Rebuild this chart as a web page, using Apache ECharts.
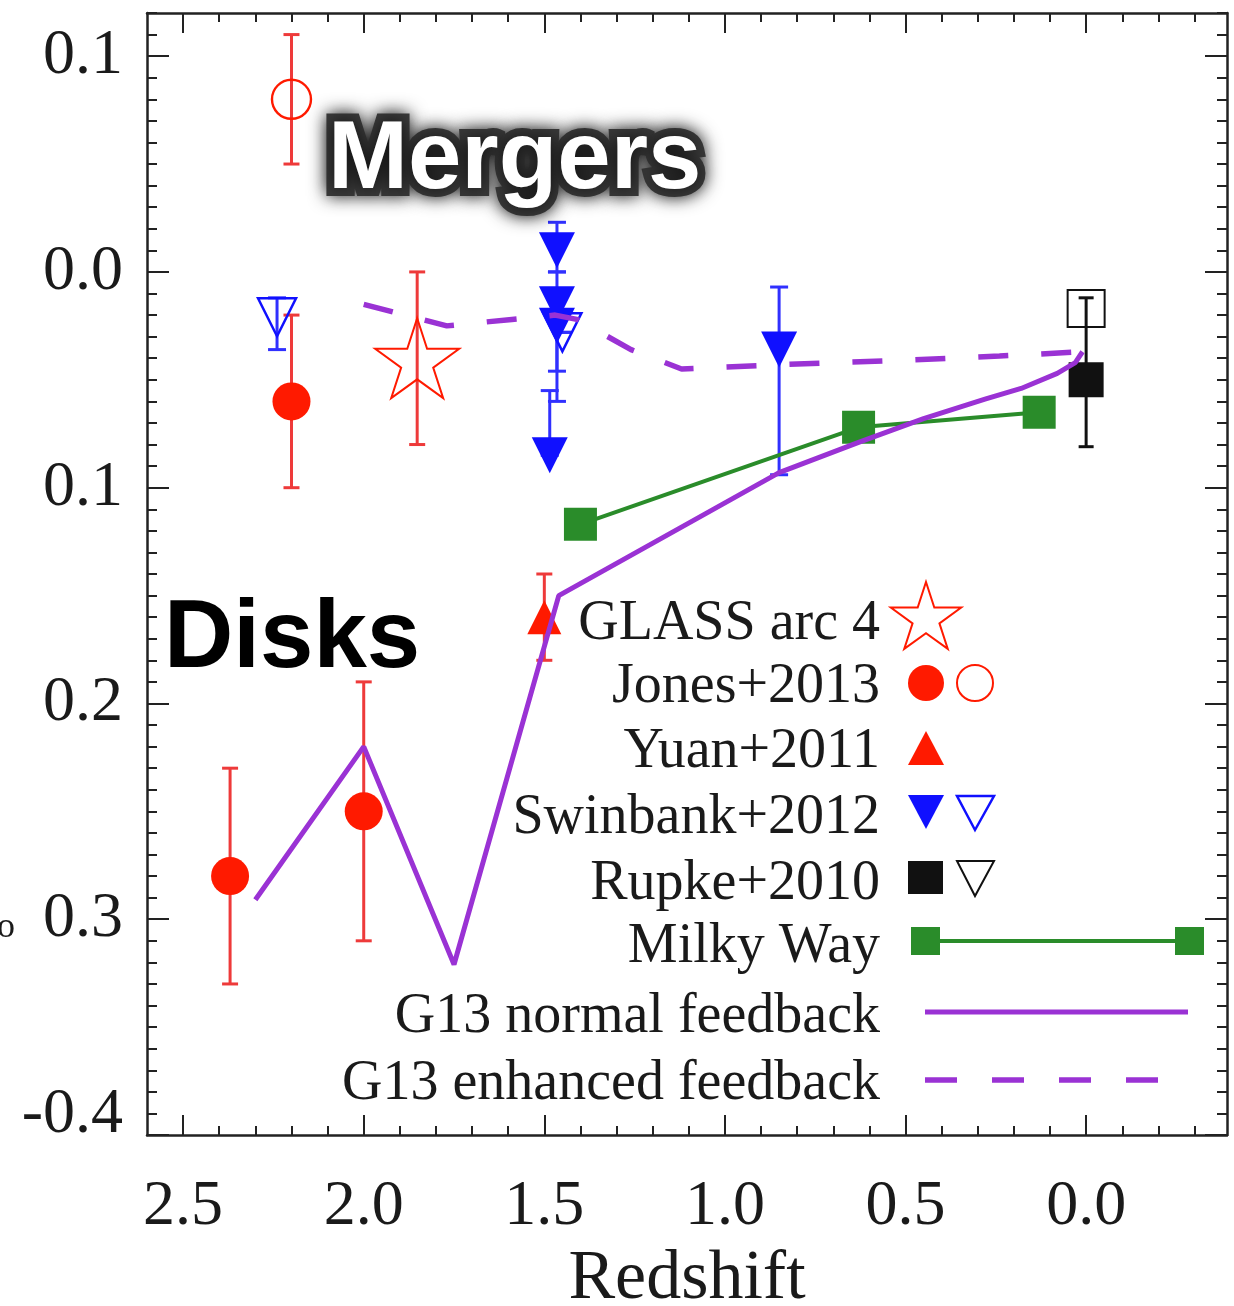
<!DOCTYPE html>
<html><head><meta charset="utf-8">
<script src="https://cdn.jsdelivr.net/npm/echarts@6/dist/echarts.min.js"></script>
<style>html,body{margin:0;padding:0;background:#fff}#c{width:1234px;height:1306px}</style>
</head><body><div id="c"></div>
<script>
// ---- axis ticks / labels ----
const xTickValues = [2.5, 2.0, 1.5, 1.0, 0.5, 0.0];
const xTickLabels = ['2.5', '2.0', '1.5', '1.0', '0.5', '0.0'];
const yTickValues = [0.1, 0.0, -0.1, -0.2, -0.3, -0.4];
const yTickLabels = ['0.1', '0.0', '0.1', '0.2', '0.3', '-0.4'];
const X_MIN = -0.39, X_MAX = 2.6, Y_MIN = -0.4, Y_MAX = 0.12;

// ---- Jones+2013 (filled) ----
const jonesX  = [2.37, 2.00, 2.20];
const jonesY  = [-0.28, -0.25, -0.06];
const jonesLo = [-0.33, -0.31, -0.10];
const jonesHi = [-0.23, -0.19, -0.02];
// ---- Jones+2013 (open) ----
const jonesOpenX  = [2.20];
const jonesOpenY  = [0.08];
const jonesOpenLo = [0.05];
const jonesOpenHi = [0.11];
// ---- GLASS arc 4 ----
const glassX  = [1.852];
const glassY  = [-0.04];
const glassLo = [-0.08];
const glassHi = [0.00];
// ---- Yuan+2011 ----
const yuanX  = [1.50];
const yuanY  = [-0.16];
const yuanLo = [-0.18];
const yuanHi = [-0.14];
// ---- Swinbank+2012 (filled) ----
const swinX  = [1.465, 1.465, 1.465, 1.485, 0.85];
const swinY  = [0.010, -0.015, -0.025, -0.085, -0.036];
const swinLo = [0.000, -0.046, -0.060, -0.085, -0.094];
const swinHi = [0.023, 0.000, -0.012, -0.055, -0.007];
// ---- Swinbank+2012 (open) ----
const swinOpenX  = [2.24, 1.45];
const swinOpenY  = [-0.021, -0.028];
const swinOpenLo = [-0.036, -0.028];
const swinOpenHi = [-0.012, -0.028];
// ---- Rupke+2010 ----
const rupkeX  = [0.00];
const rupkeY  = [-0.05];
const rupkeLo = [-0.081];
const rupkeHi = [-0.012];
const rupkeOpenX = [0.00];
const rupkeOpenY = [-0.017];
// ---- Milky Way ----
const mwX = [1.40, 0.63, 0.13];
const mwY = [-0.117, -0.072, -0.065];
// ---- G13 normal feedback ----
const g13nX = [2.30, 2.00, 1.75, 1.46, 0.85, 0.63, 0.45, 0.28, 0.18, 0.08, 0.03, 0.01];
const g13nY = [-0.291, -0.220, -0.321, -0.150, -0.093, -0.079, -0.068, -0.059, -0.054, -0.047, -0.042, -0.037];
// ---- G13 enhanced feedback ----
const g13eX = [2.00, 1.77, 1.59, 1.47, 1.41, 1.26, 1.12, 0.85, 0.52, 0.24, 0.01];
const g13eY = [-0.015, -0.025, -0.022, -0.020, -0.022, -0.036, -0.045, -0.043, -0.041, -0.039, -0.037];

// ---- legend texts ----
const legendLabels = ['GLASS arc 4', 'Jones+2013', 'Yuan+2011', 'Swinbank+2012', 'Rupke+2010', 'Milky Way', 'G13 normal feedback', 'G13 enhanced feedback'];

const RED = '#ff1a00', RED_BAR = '#ee3a3a', BLUE = '#1010ff', BLUE_BAR = '#3030ff',
      GREEN = '#2a8c2a', PURPLE = '#9a32d4', BLACK = '#111';
const SERIF = '"Liberation Serif", "DejaVu Serif", serif';
const SANS = '"Liberation Sans", Arial, sans-serif';

const zip = (a, b) => a.map((v, i) => [v, b[i]]);
const zip4 = (a, b, c, d) => a.map((v, i) => [v, b[i], c[i], d[i]]);

const xMinor = []; for (let i = -3; i <= 25; i++) xMinor.push(i / 10);
const yMinor = []; for (let i = -40; i <= 12; i++) yMinor.push(i / 100);

function lookup(vals, labels, v) {
  const i = vals.findIndex(t => Math.abs(t - v) < 1e-9);
  return i < 0 ? '' : labels[i];
}

const lineSt = {color: '#222', width: 2.5};
const tickSt = {color: '#222', width: 2};
function xAx(pos, major, label) {
  return {
    type: 'value', position: pos, min: X_MIN, max: X_MAX, inverse: true,
    axisLine: {show: major, onZero: false, lineStyle: lineSt},
    axisTick: {show: true, inside: true, length: major ? 20 : 9,
               customValues: major ? xTickValues : xMinor, lineStyle: tickSt},
    axisLabel: label ? {show: true, customValues: xTickValues, margin: 40,
               formatter: v => lookup(xTickValues, xTickLabels, v),
               fontSize: 64, fontFamily: SERIF, color: '#1a1a1a'} : {show: false},
    splitLine: {show: false},
    name: label ? 'Redshift' : '', nameLocation: 'middle', nameGap: 110,
    nameTextStyle: {fontSize: 70, fontFamily: SERIF, color: '#1a1a1a'}
  };
}
function yAx(pos, major, label) {
  return {
    type: 'value', position: pos, min: Y_MIN, max: Y_MAX,
    axisLine: {show: major, onZero: false, lineStyle: lineSt},
    axisTick: {show: true, inside: true, length: major ? 22 : 10,
               customValues: major ? yTickValues : yMinor, lineStyle: tickSt},
    axisLabel: label ? {show: true, customValues: yTickValues, margin: 24,
               formatter: v => {
                 const s = lookup(yTickValues, yTickLabels, v);
                 return Math.abs(v - Y_MIN) < 1e-9 ? '{low|' + s + '}' : s;
               },
               rich: {low: {fontSize: 64, fontFamily: SERIF, color: '#1a1a1a', padding: [0, 0, 40, 0]}},
               fontSize: 64, fontFamily: SERIF, color: '#1a1a1a'} : {show: false},
    splitLine: {show: false}
  };
}

function errSeries(data, color, cap) {
  return {
    type: 'custom', z: 2, silent: true,
    encode: {x: 0, y: [1, 2, 3]},
    renderItem: (params, api) => {
      const x = api.value(0), lo = api.value(2), hi = api.value(3);
      const a = api.coord([x, hi]), b = api.coord([x, lo]);
      const st = {stroke: color, lineWidth: 3};
      const h = cap / 2;
      return {type: 'group', children: [
        {type: 'line', shape: {x1: a[0], y1: a[1], x2: b[0], y2: b[1]}, style: st},
        {type: 'line', shape: {x1: a[0] - h, y1: a[1], x2: a[0] + h, y2: a[1]}, style: st},
        {type: 'line', shape: {x1: b[0] - h, y1: b[1], x2: b[0] + h, y2: b[1]}, style: st}
      ]};
    },
    data: data
  };
}

const STAR = 'path://M0,-1 L0.2245,-0.309 L0.951,-0.309 L0.363,0.118 L0.588,0.809 L0,0.382 L-0.588,0.809 L-0.363,0.118 L-0.951,-0.309 L-0.2245,-0.309 Z';
const clear = 'rgba(0,0,0,0)';

const redErr = zip4(jonesX, jonesY, jonesLo, jonesHi)
  .concat(zip4(jonesOpenX, jonesOpenY, jonesOpenLo, jonesOpenHi))
  .concat(zip4(glassX, glassY, glassLo, glassHi))
  .concat(zip4(yuanX, yuanY, yuanLo, yuanHi));
const blueErr = zip4(swinX, swinY, swinLo, swinHi)
  .concat(zip4(swinOpenX, swinOpenY, swinOpenLo, swinOpenHi));
const blackErr = zip4(rupkeX, rupkeY, rupkeLo, rupkeHi);

const series = [
  errSeries(redErr, RED_BAR, 16),
  errSeries(blueErr, BLUE_BAR, 18),
  {type: 'scatter', z: 3, symbol: 'circle', symbolSize: 38, itemStyle: {color: RED, opacity: 1}, data: zip(jonesX, jonesY)},
  {type: 'scatter', z: 3, symbol: 'circle', symbolSize: 39, itemStyle: {color: clear, borderColor: RED, borderWidth: 2.4, opacity: 1}, data: zip(jonesOpenX, jonesOpenY)},
  {type: 'scatter', z: 3, symbol: STAR, symbolSize: 84, symbolKeepAspect: true, itemStyle: {color: clear, borderColor: RED, borderWidth: 2, opacity: 1}, data: zip(glassX, glassY)},
  {type: 'scatter', z: 3, symbol: 'triangle', symbolSize: 34, itemStyle: {color: RED, opacity: 1}, data: zip(yuanX, yuanY)},
  {type: 'scatter', z: 3, symbol: 'triangle', symbolRotate: 180, symbolSize: 36, itemStyle: {color: BLUE, opacity: 1}, data: zip(swinX, swinY)},
  {type: 'scatter', z: 3, symbol: 'triangle', symbolRotate: 180, symbolSize: 38, itemStyle: {color: clear, borderColor: BLUE, borderWidth: 2.5, opacity: 1}, data: zip(swinOpenX, swinOpenY)},
  {type: 'scatter', z: 3, symbol: 'rect', symbolSize: 37, itemStyle: {color: clear, borderColor: BLACK, borderWidth: 2, opacity: 1}, data: zip(rupkeOpenX, rupkeOpenY)},
  {type: 'scatter', z: 3, symbol: 'rect', symbolSize: 35, itemStyle: {color: BLACK, opacity: 1}, data: zip(rupkeX, rupkeY)},
  errSeries(blackErr, BLACK, 15),
  {type: 'line', z: 4, symbol: 'rect', symbolSize: 33, showSymbol: true, lineStyle: {color: GREEN, width: 4}, itemStyle: {color: GREEN}, data: zip(mwX, mwY)},
  {type: 'line', z: 5, showSymbol: false, lineStyle: {color: PURPLE, width: 5}, data: zip(g13nX, g13nY)},
  {type: 'line', z: 5, showSymbol: false, lineStyle: {color: PURPLE, width: 5.5, type: [30, 33]}, data: zip(g13eX, g13eY)}
];
series.forEach(s => { s.animation = false; s.emphasis = {disabled: true}; });

// ---- legend (drawn as graphics) ----
const legBase = [652, 715, 780, 846, 912, 975, 1045, 1112];
const legend = legendLabels.map((t, i) => ({
  type: 'text', x: 880, y: legBase[i],
  style: {text: t, font: '56px ' + SERIF, fill: '#1a1a1a', align: 'right', verticalAlign: 'bottom'}
}));
function starPts(cx, cy, R) {
  const pts = [];
  for (let k = 0; k < 10; k++) {
    const r = k % 2 ? R * 0.382 : R;
    const a = -Math.PI / 2 + k * Math.PI / 5;
    pts.push([cx + r * Math.cos(a), cy + r * Math.sin(a)]);
  }
  return pts;
}
const legendSyms = [
  {type: 'polygon', shape: {points: starPts(926, 619, 37)}, style: {fill: 'none', stroke: RED, lineWidth: 2}},
  {type: 'circle', shape: {cx: 926, cy: 683, r: 18}, style: {fill: RED}},
  {type: 'circle', shape: {cx: 975, cy: 683, r: 18}, style: {fill: 'none', stroke: RED, lineWidth: 2}},
  {type: 'polygon', shape: {points: [[926, 731], [944, 765], [908, 765]]}, style: {fill: RED}},
  {type: 'polygon', shape: {points: [[908, 795], [944, 795], [926, 829]]}, style: {fill: BLUE}},
  {type: 'polygon', shape: {points: [[957, 796], [994, 796], [975, 830]]}, style: {fill: 'none', stroke: BLUE, lineWidth: 2.5}},
  {type: 'rect', shape: {x: 908, y: 861, width: 35, height: 33}, style: {fill: BLACK}},
  {type: 'polygon', shape: {points: [[957, 861], [994, 861], [975, 896]]}, style: {fill: 'none', stroke: BLACK, lineWidth: 2}},
  {type: 'line', shape: {x1: 925, y1: 941, x2: 1189, y2: 941}, style: {stroke: GREEN, lineWidth: 4}},
  {type: 'rect', shape: {x: 911, y: 927, width: 29, height: 28}, style: {fill: GREEN}},
  {type: 'rect', shape: {x: 1175, y: 927, width: 29, height: 28}, style: {fill: GREEN}},
  {type: 'line', shape: {x1: 925, y1: 1012, x2: 1188, y2: 1012}, style: {stroke: PURPLE, lineWidth: 5}},
  {type: 'line', shape: {x1: 925, y1: 1080, x2: 1160, y2: 1080}, style: {stroke: PURPLE, lineWidth: 5.5, lineDash: [32, 35]}}
];

const annotations = [
  {type: 'text', x: 328, y: 162, z: 10,
   style: {text: 'Mergers', font: 'bold 96px ' + SANS, fill: '#ffffff', stroke: '#3a3a3a', lineWidth: 16,
           textShadowBlur: 18, textShadowColor: 'rgba(0,0,0,0.85)', align: 'left', verticalAlign: 'middle'}},
  {type: 'text', x: 164, y: 641, z: 10,
   style: {text: 'Disks', font: 'bold 96px ' + SANS, fill: '#000', align: 'left', verticalAlign: 'middle'}},
  {type: 'text', x: -3, y: 928,
   style: {text: 'o', font: '36px ' + SERIF, fill: '#1a1a1a', align: 'left', verticalAlign: 'middle'}}
];

const chart = echarts.init(document.getElementById('c'), null, {renderer: 'canvas'});
chart.setOption({
  animation: false,
  backgroundColor: '#fff',
  grid: {left: 147, right: 7, top: 13, bottom: 171, containLabel: false, outerBoundsMode: 'none'},
  xAxis: [xAx('bottom', true, true), xAx('bottom', false, false), xAx('top', true, false), xAx('top', false, false)],
  yAxis: [yAx('left', true, true), yAx('left', false, false), yAx('right', true, false), yAx('right', false, false)],
  series: series,
  graphic: {elements: legend.concat(legendSyms.map(g => Object.assign({z: 20}, g))).concat(annotations)}
});
</script></body></html>
